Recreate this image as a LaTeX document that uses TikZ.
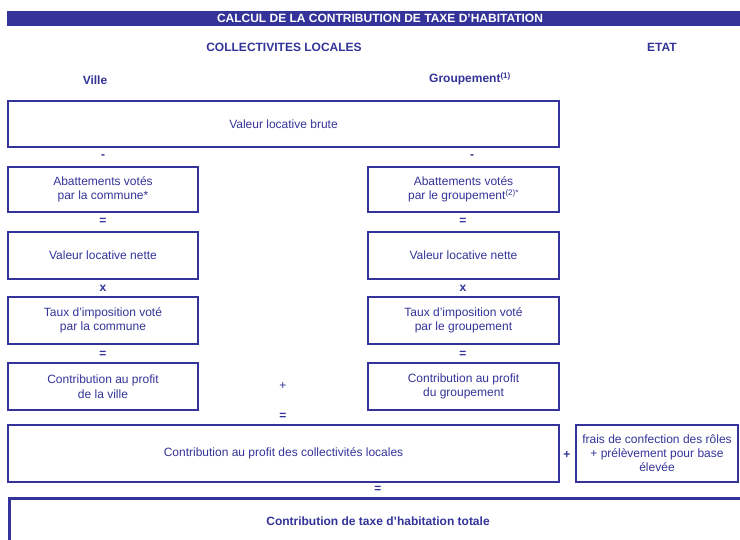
\documentclass[tikz,border=0pt]{standalone}
\usepackage{fontspec}
\setmainfont{Liberation Sans}
\usetikzlibrary{positioning}

\definecolor{taxblue}{HTML}{333399}

\begin{document}
\begin{tikzpicture}[x=1pt, y=-1pt, font=\fontsize{12}{14.5}\selectfont, text=taxblue,
  box/.style={draw=taxblue, line width=2pt, inner sep=0pt, align=center, minimum height=46pt},
  smallbox/.style={box, minimum width=190pt},
  widebox/.style={box, minimum width=551pt},
  op/.style={font=\fontsize{12}{14.5}\selectfont\bfseries, inner sep=0pt},
  head/.style={font=\fontsize{12}{14.5}\selectfont\bfseries, inner sep=0pt}]
  % Fix the page size
  \useasboundingbox (0,0) rectangle (740,539);
  \clip (0,0) rectangle (740,539);

  % Title bar
  \fill[taxblue] (7,10.5) rectangle (742,25.5);
  \node[head, text=white] (title) at (380,18) {CALCUL DE LA CONTRIBUTION DE TAXE D'HABITATION};

  % Column headings
  \node[head] (coll) at (284,47) {COLLECTIVITES LOCALES};
  \node[head] (etat) at (662,47) {ETAT};
  \node[head] (ville) at (95,80) {Ville};
  \node[head] (grp) at (470,79) {Groupement\textsuperscript{(1)}};

  % Gross rental value
  \node[widebox, minimum height=46pt] (brute) at (283.5,124) {Valeur locative brute};

  % Town column
  \node[op] (minusA) at (103,157) {-};
  \node[smallbox, minimum height=45pt] (abatA) at (103,189.5) {Abattements votés\\par la commune*};
  \node[op] (eqA) at (103,221) {=};
  \node[smallbox, minimum height=47pt] (netA) at (103,255.5) {Valeur locative nette};
  \node[op] (timesA) at (103,288) {x};
  \node[smallbox, minimum height=47pt] (tauxA) at (103,320.5) {Taux d'imposition voté\\par la commune};
  \node[op] (eqA2) at (103,354) {=};
  \node[smallbox, minimum height=47pt] (contA) at (103,386.5) {Contribution au profit\\de la ville};

  % Grouping column
  \node[op] (minusB) at (472,157) {-};
  \node[smallbox, minimum height=45pt, minimum width=191pt] (abatB) at (463.5,189.5) {Abattements votés\\par le groupement\textsuperscript{(2)*}};
  \node[op] (eqB) at (463,221) {=};
  \node[smallbox, minimum height=47pt, minimum width=191pt] (netB) at (463.5,255.5) {Valeur locative nette};
  \node[op] (timesB) at (463,288) {x};
  \node[smallbox, minimum height=47pt, minimum width=191pt] (tauxB) at (463.5,320.5) {Taux d'imposition voté\\par le groupement};
  \node[op] (eqB2) at (463,354) {=};
  \node[smallbox, minimum height=47pt, minimum width=191pt] (contB) at (463.5,386.5) {Contribution au profit\\du groupement};

  % Sum of the two contributions
  \node[inner sep=0pt] (plusAB) at (283,386) {+};
  \node[op] (eqC) at (283,416) {=};
  \node[widebox, minimum height=57pt] (coll2) at (283.5,453.5) {Contribution au profit des collectivités locales};
  \node[op] (plusE) at (567,455) {+};
  \node[box, minimum height=57pt, minimum width=162pt, font=\fontsize{12}{14}\selectfont] (frais) at (657,453.5) {frais de confection des rôles\\+ prélèvement pour base\\élevée};

  % Total
  \node[op] (eqT) at (378,489) {=};
  \draw[taxblue, line width=3pt] (9.5,560) |- (750,498.5);
  \node[head] (total) at (378,521) {Contribution de taxe d'habitation totale};
\end{tikzpicture}
\end{document}
